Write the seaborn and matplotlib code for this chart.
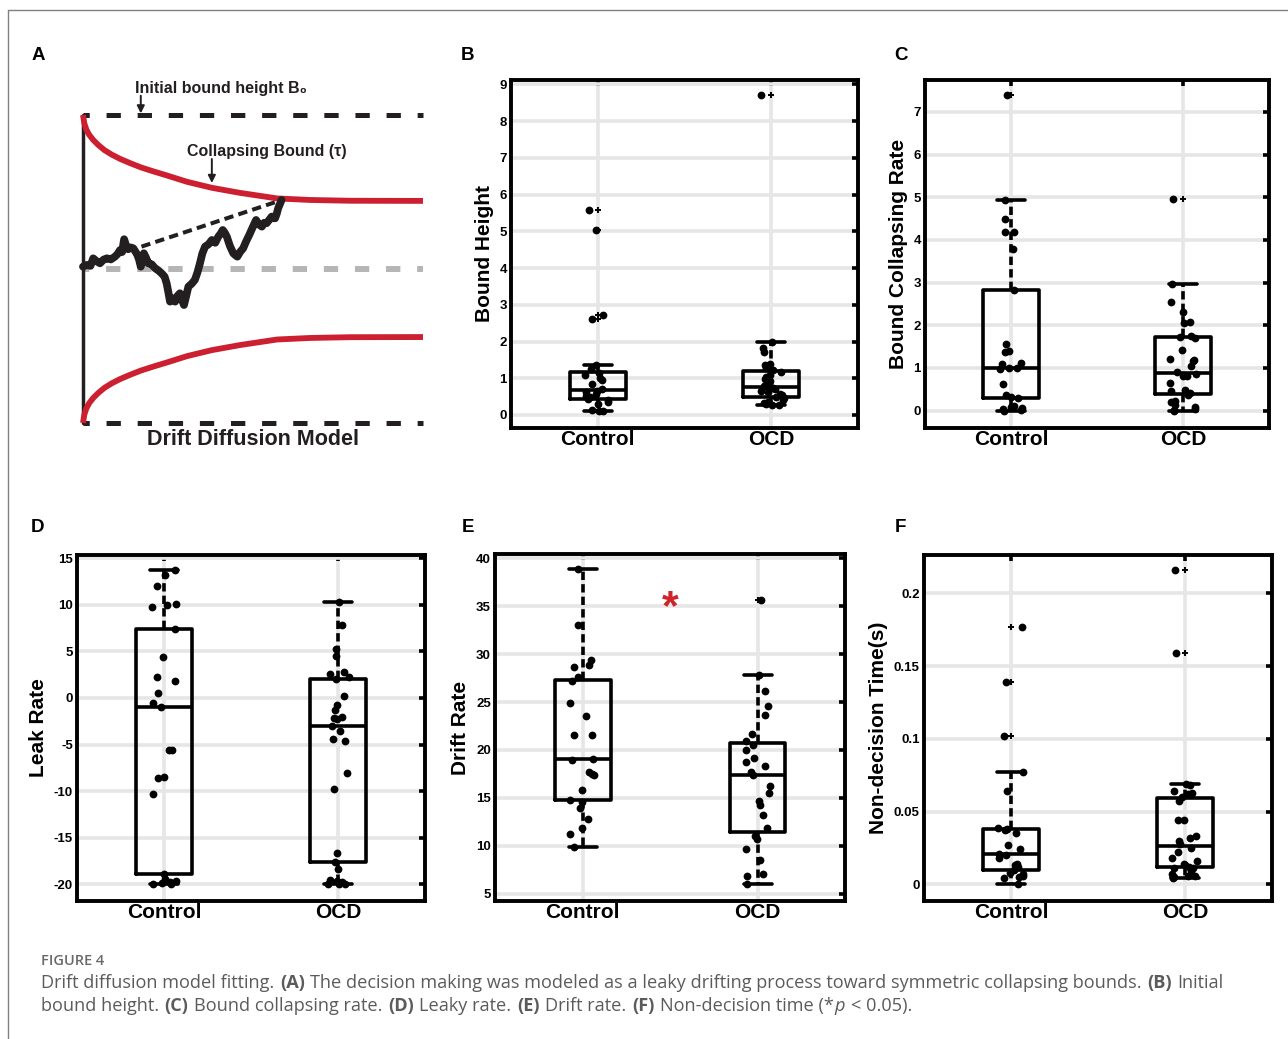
import numpy as np
import pandas as pd
import matplotlib
matplotlib.use("Agg")
import matplotlib.pyplot as plt
from matplotlib.lines import Line2D
import seaborn as sns

W, H = 1288, 1039
groups = ["Control", "OCD"]

# ---- fitted parameters per participant ----
bound_height_control = [0.11, 0.12, 0.14, 0.30, 0.36, 0.40, 0.44, 0.48, 0.52, 0.56, 0.62, 0.66,
                        0.70, 0.85, 0.95, 1.00, 1.10, 1.13, 1.25, 1.36, 2.62, 2.72, 5.04, 5.57]
bound_height_ocd = [0.26, 0.28, 0.30, 0.33, 0.36, 0.40, 0.45, 0.49, 0.53, 0.58, 0.62, 0.66, 0.70,
                    0.74, 0.76, 0.78, 0.85, 0.92, 0.98, 1.02, 1.10, 1.18, 1.22, 1.28, 1.35, 1.40,
                    1.72, 1.82, 2.00, 8.71]

collapse_rate_control = [0.00, 0.01, 0.03, 0.05, 0.08, 0.10, 0.29, 0.32, 0.37, 0.63, 0.97, 0.99,
                         1.00, 1.08, 1.12, 1.38, 1.40, 1.55, 2.82, 3.78, 4.18, 4.18, 4.48, 4.93, 7.40]
collapse_rate_ocd = [0.00, 0.02, 0.03, 0.08, 0.12, 0.20, 0.22, 0.37, 0.40, 0.45, 0.48, 0.65, 0.80,
                     0.82, 0.85, 0.91, 1.05, 1.15, 1.18, 1.20, 1.42, 1.70, 1.72, 1.75, 2.05, 2.07,
                     2.32, 2.55, 2.96, 4.96]

leak_rate_control = [-20.0, -20.0, -19.9, -19.8, -19.6, -19.4, -18.9, -10.3, -8.6, -8.5, -5.6, -5.6,
                     -1.0, -0.5, 0.5, 1.8, 2.2, 4.4, 7.4, 9.8, 10.0, 10.1, 12.0, 13.2, 13.7]
leak_rate_ocd = [-20.0, -20.0, -20.0, -19.8, -19.7, -19.5, -18.4, -17.6, -16.6, -9.8, -8.1, -4.6,
                 -4.4, -3.6, -3.05, -2.3, -2.1, -2.0, -1.3, -0.8, 0.2, 2.05, 2.3, 2.6, 2.8, 4.5,
                 5.3, 7.8, 10.3]

drift_rate_control = [9.9, 11.2, 11.9, 12.8, 13.9, 14.6, 14.8, 15.8, 17.4, 17.5, 17.7, 18.9, 19.1,
                      21.6, 21.6, 23.5, 24.9, 27.2, 27.6, 28.7, 28.9, 29.4, 33.0, 38.9]
drift_rate_ocd = [6.0, 6.8, 7.1, 8.5, 9.7, 10.7, 11.0, 11.9, 13.2, 14.3, 14.7, 15.5, 16.2, 17.4,
                  17.7, 18.3, 18.7, 19.2, 20.0, 20.5, 20.9, 21.7, 23.6, 24.6, 26.2, 27.8, 35.7]

ndt_control = [0.000, 0.004, 0.005, 0.006, 0.007, 0.008, 0.010, 0.012, 0.013, 0.014, 0.018, 0.020,
               0.021, 0.024, 0.027, 0.035, 0.037, 0.038, 0.039, 0.064, 0.077, 0.102, 0.139, 0.177]
ndt_ocd = [0.004, 0.005, 0.006, 0.006, 0.007, 0.009, 0.011, 0.0115, 0.012, 0.013, 0.014, 0.016,
           0.018, 0.022, 0.025, 0.028, 0.030, 0.032, 0.033, 0.044, 0.044, 0.057, 0.060, 0.062,
           0.063, 0.064, 0.068, 0.069, 0.159, 0.216]

# ---- schematic of the drift diffusion process ----
bound_time = [0.0, 0.004, 0.01, 0.018, 0.03, 0.045, 0.063, 0.085, 0.11, 0.14, 0.17, 0.205,
              0.247, 0.306, 0.379, 0.462, 0.571, 0.668, 0.785, 1.0]
bound_upper = [1.0, 0.945, 0.905, 0.872, 0.838, 0.805, 0.772, 0.742, 0.714, 0.686, 0.66, 0.635,
               0.607, 0.566, 0.527, 0.494, 0.458, 0.448, 0.443, 0.442]
walk_time = [0.0, 0.011, 0.022, 0.030, 0.040, 0.050, 0.060, 0.070, 0.082, 0.094, 0.102, 0.109,
             0.115, 0.121, 0.127, 0.133, 0.140, 0.148, 0.155, 0.160, 0.165, 0.170, 0.175, 0.179,
             0.186, 0.192, 0.202, 0.212, 0.222, 0.231, 0.240, 0.246, 0.251, 0.256, 0.263, 0.271,
             0.278, 0.285, 0.291, 0.297, 0.303, 0.310, 0.320, 0.329, 0.337, 0.344, 0.351, 0.359,
             0.369, 0.379, 0.389, 0.398, 0.405, 0.411, 0.417, 0.423, 0.432, 0.442, 0.448, 0.454,
             0.462, 0.471, 0.480, 0.489, 0.499, 0.509, 0.517, 0.526, 0.533, 0.540, 0.548, 0.555,
             0.560, 0.565, 0.570, 0.574, 0.579, 0.584]
walk_evidence = [0.015, 0.026, 0.020, 0.069, 0.050, 0.037, 0.060, 0.069, 0.062, 0.080, 0.098, 0.123,
                 0.110, 0.193, 0.150, 0.128, 0.140, 0.134, 0.110, 0.091, 0.060, 0.015, 0.060, 0.102,
                 0.070, 0.037, 0.030, 0.005, -0.010, -0.028, -0.050, -0.093, -0.150, -0.212, -0.190,
                 -0.212, -0.175, -0.158, -0.200, -0.234, -0.180, -0.115, -0.095, -0.071, -0.020,
                 0.037, 0.100, 0.145, 0.160, 0.188, 0.170, 0.210, 0.230, 0.253, 0.235, 0.210, 0.150,
                 0.102, 0.090, 0.080, 0.110, 0.134, 0.180, 0.221, 0.270, 0.318, 0.290, 0.275, 0.300,
                 0.297, 0.320, 0.340, 0.330, 0.329, 0.360, 0.394, 0.420, 0.448]
drift_time = [0.172, 0.570]
drift_evidence = [0.145, 0.437]

sns.set_theme(style="white")
plt.rcParams["font.family"] = ["Liberation Sans", "DejaVu Sans"]
plt.rcParams["axes.unicode_minus"] = False
plt.rcParams["lines.scale_dashes"] = False
for key in ["text.color", "axes.labelcolor", "xtick.color", "ytick.color"]:
    plt.rcParams[key] = "black"

fig = plt.figure(figsize=(W / 100, H / 100), dpi=100, facecolor="white")


def frac_box(left, top, right, bottom):
    return [left / W, 1 - bottom / H, (right - left) / W, (bottom - top) / H]


def px(x, y):
    return x / W, 1 - y / H


# frame around the figure
fig.add_artist(Line2D([8 / W, 1.0], [1 - 10 / H, 1 - 10 / H], color="#808080", lw=1.0))
fig.add_artist(Line2D([8 / W, 8 / W], [0.0, 1 - 10 / H], color="#808080", lw=1.0))

# ---- panel A ----
axA = fig.add_axes(frac_box(60, 70, 430, 455))
axA.set_xlim(-0.0676, 1.0206)
axA.set_ylim(-1.208, 1.292)
axA.axis("off")
dash_black = (5.8, (10.3, 12.1))
axA.plot([0, 1], [1, 1], color="#231f20", lw=3.6, linestyle=dash_black)
axA.plot([0, 1], [-1, -1], color="#231f20", lw=3.6, linestyle=dash_black)
axA.plot([0, 1], [0, 0], color="#b5b5b5", lw=4.3, linestyle=dash_black)
axA.plot([0, 0], [-1, 1], color="#231f20", lw=2.5)
axA.plot(bound_time, bound_upper, color="#cc2030", lw=4.2, solid_capstyle="butt")
axA.plot(bound_time, [-v for v in bound_upper], color="#cc2030", lw=4.2, solid_capstyle="butt")
axA.plot(drift_time, drift_evidence, color="#231f20", lw=2.9, linestyle=(0, (6.7, 3.8)))
axA.plot(walk_time, walk_evidence, color="#231f20", lw=5.6, solid_joinstyle="round",
         solid_capstyle="round")
axA.annotate("", xy=(0.17, 1.01), xytext=(0.17, 1.125),
             arrowprops=dict(arrowstyle="-|>", lw=1.4, color="#231f20", mutation_scale=11,
                             shrinkA=0, shrinkB=0))
axA.text(0.153, 1.175, "Initial bound height B\u2080", fontsize=11.5, fontweight="bold",
         ha="left", va="center", color="#231f20")
axA.annotate("", xy=(0.379, 0.558), xytext=(0.379, 0.714),
             arrowprops=dict(arrowstyle="-|>", lw=1.4, color="#231f20", mutation_scale=11,
                             shrinkA=0, shrinkB=0))
axA.text(0.306, 0.76, "Collapsing Bound (\u03c4)", fontsize=11.5, fontweight="bold",
         ha="left", va="center", color="#231f20")
axA.text(0.5, -1.105, "Drift Diffusion Model", fontsize=15.5, fontweight="bold",
         ha="center", va="center", color="#231f20")


# ---- panels B-F ----
def box_panel(rect, control, ocd, ylabel, ylim, yticks, yticklabels, seed, labelpad):
    ax = fig.add_axes(frac_box(*rect))
    df = pd.DataFrame({"group": ["Control"] * len(control) + ["OCD"] * len(ocd),
                       "value": list(control) + list(ocd)})
    sns.boxplot(data=df, x="group", y="value", order=groups, ax=ax,
                width=0.32, whis=1.5, fill=False, color="black", linecolor="black",
                linewidth=2.6, fliersize=5,
                whiskerprops={"linestyle": (0, (6.0, 3.0))},
                flierprops={"marker": "+", "markeredgewidth": 1.4,
                            "markeredgecolor": "black"},
                medianprops={"color": "black"})
    np.random.seed(seed)
    sns.stripplot(data=df, x="group", y="value", order=groups, ax=ax,
                  jitter=0.075, color="black", size=5.6, linewidth=0, zorder=3)
    ax.set_xlim(-0.5, 1.5)
    ax.set_ylim(*ylim)
    ax.set_yticks(yticks, yticklabels, fontsize=9.5, fontweight="bold")
    ax.set_xticks([0, 1], groups, fontsize=15, fontweight="bold")
    ax.set_xlabel("")
    ax.set_ylabel(ylabel, fontsize=15, fontweight="bold", labelpad=labelpad)
    ax.grid(True, color="#e6e6e6", linewidth=2.6)
    ax.set_axisbelow(True)
    ax.tick_params(axis="both", direction="in", length=4.5, width=2.6,
                   top=True, right=True, color="black")
    ax.tick_params(axis="x", pad=1.5)
    ax.tick_params(axis="y", pad=3)
    for s in ax.spines.values():
        s.set_visible(True)
        s.set_linewidth(2.8)
        s.set_color("black")
    return ax


box_panel((511, 80, 858, 428), bound_height_control, bound_height_ocd, "Bound Height",
          (-0.355, 9.12), range(0, 10), [str(v) for v in range(0, 10)], 3, 4)
box_panel((925, 80, 1269, 428), collapse_rate_control, collapse_rate_ocd,
          "Bound Collapsing Rate", (-0.41, 7.75), range(0, 8), [str(v) for v in range(0, 8)],
          5, 4)
box_panel((77, 555, 425, 901), leak_rate_control, leak_rate_ocd, "Leak Rate",
          (-21.8, 15.35), range(-20, 16, 5), [str(v) for v in range(-20, 16, 5)], 7, 4)
axE = box_panel((495, 554, 845, 901), drift_rate_control, drift_rate_ocd, "Drift Rate",
                (4.23, 40.45), range(5, 41, 5), [str(v) for v in range(5, 41, 5)], 11, 4)
box_panel((924, 555, 1272, 901), ndt_control, ndt_ocd, "Non-decision Time(s)",
          (-0.0115, 0.2263), [0, 0.05, 0.1, 0.15, 0.2], ["0", "0.05", "0.1", "0.15", "0.2"],
          13, 4)
axE.text(0.5, 34.8, "*", color="#d0242c", fontsize=31, fontweight="bold",
         ha="center", va="center")

# panel letters
for letter, (x, y) in zip("ABCDEF", [(38, 55), (468, 55), (901, 55), (38, 528), (468, 528),
                                     (900, 528)]):
    fig.text(*px(x, y), letter, fontsize=13.5, fontweight="bold", ha="center", va="center")

# ---- caption ----
cap_font = ["Open Sans", "DejaVu Sans"]
cap_color = "#5b5b5b"
cap_size = 13.05
renderer = fig.canvas.get_renderer()


def text_width(s, **kw):
    t = fig.text(0, 0, s, **kw)
    w = t.get_window_extent(renderer).width
    t.remove()
    return w


def rich_line(x0, y0, segments):
    base = dict(fontsize=cap_size, family=cap_font, color=cap_color)
    space = text_width("a a", **base) - text_width("aa", **base)
    cur = x0
    for text, weight, style in segments:
        if text.startswith(" "):
            cur += space
        body = text.strip(" ")
        t = fig.text(*px(cur, y0), body, fontweight=weight, fontstyle=style,
                     va="baseline", ha="left", **base)
        cur += t.get_window_extent(renderer).width + 0.8
        if text.endswith(" "):
            cur += space


fig.text(*px(41, 965), "FIGURE 4", fontsize=10.5, family=cap_font, color="#6a6a6a",
         fontweight="semibold", va="baseline", ha="left")
rich_line(41, 988, [
    ("Drift diffusion model fitting. ", "normal", "normal"),
    ("(A)", "bold", "normal"),
    (" The decision making was modeled as a leaky drifting process toward symmetric "
     "collapsing bounds. ", "normal", "normal"),
    ("(B)", "bold", "normal"),
    (" Initial", "normal", "normal"),
])
rich_line(41, 1011, [
    ("bound height. ", "normal", "normal"),
    ("(C)", "bold", "normal"),
    (" Bound collapsing rate. ", "normal", "normal"),
    ("(D)", "bold", "normal"),
    (" Leaky rate. ", "normal", "normal"),
    ("(E)", "bold", "normal"),
    (" Drift rate. ", "normal", "normal"),
    ("(F)", "bold", "normal"),
    (" Non-decision time (*", "normal", "normal"),
    ("p", "normal", "italic"),
    (" < 0.05).", "normal", "normal"),
])

fig.savefig("out.png", dpi=100, facecolor="white")
